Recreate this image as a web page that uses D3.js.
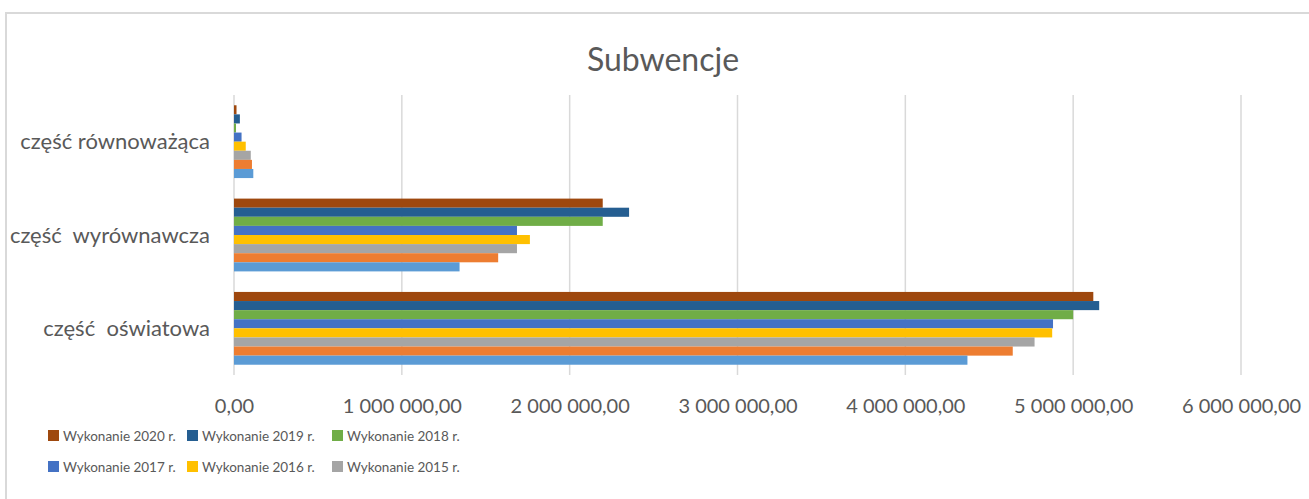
<!DOCTYPE html>
<html>
<head>
<meta charset="utf-8">
<script src="https://d3js.org/d3.v7.min.js"></script>
<style>
  body { margin: 0; background: #fff; }
  text { font-family: Lato, "Open Sans", sans-serif; fill: #595959; }
</style>
</head>
<body>
<svg id="vis"></svg>
<script>
// categories (top to bottom)
var categories = ["część równoważąca", "część  wyrównawcza", "część  oświatowa"];

// series names, top bar first
var seriesNames = ["Wykonanie 2020 r.", "Wykonanie 2019 r.", "Wykonanie 2018 r.",
                   "Wykonanie 2017 r.", "Wykonanie 2016 r.", "Wykonanie 2015 r.",
                   "Wykonanie 2014 r.", "Wykonanie 2013 r."];
var seriesColors = ["#9E480E", "#255E91", "#70AD47", "#4472C4", "#FFC000", "#A5A5A5", "#ED7D31", "#5B9BD5"];

// values per series, in category order
var v2020 = [15000, 2197000, 5120000];
var v2019 = [35000, 2354000, 5155000];
var v2018 = [12000, 2197000, 5000000];
var v2017 = [45000, 1686000, 4880000];
var v2016 = [70000, 1763000, 4875000];
var v2015 = [100000, 1686000, 4770000];
var v2014 = [107000, 1574000, 4640000];
var v2013 = [115000, 1344000, 4370000];
var seriesValues = [v2020, v2019, v2018, v2017, v2016, v2015, v2014, v2013];

// x ticks
var xTicks = [0, 1000000, 2000000, 3000000, 4000000, 5000000, 6000000];

// how many legend entries are visible
var legendShown = 6;

var W = 1309, H = 499;
var svg = d3.select("#vis").attr("width", W).attr("height", H);

// chart frame
svg.append("rect")
  .attr("x", 6).attr("y", 13)
  .attr("width", W + 20).attr("height", H + 20)
  .attr("fill", "#fff")
  .attr("stroke", "#d9d9d9")
  .attr("stroke-width", 2);

// title
svg.append("text")
  .attr("x", 663).attr("y", 71)
  .attr("text-anchor", "middle")
  .style("font-size", "32px")
  .text("Subwencje");

var x = d3.scaleLinear().domain([0, 6000000]).range([234, 1241]);
var y = d3.scaleBand().domain(categories).range([95, 375])
  .paddingInner(0.22).paddingOuter(0.11);
var yInner = d3.scaleBand().domain(d3.range(seriesNames.length)).range([0, y.bandwidth()]);

var pl = d3.formatLocale({ decimal: ",", thousands: "\u00a0", grouping: [3], currency: ["", " zł"] });
var fmt = pl.format(",.2f");

// gridlines
svg.append("g")
  .selectAll("line")
  .data(xTicks)
  .join("line")
  .attr("x1", d => x(d)).attr("x2", d => x(d))
  .attr("y1", 95).attr("y2", 375)
  .attr("stroke", "#d9d9d9")
  .attr("stroke-width", 1.5);

// bars
var groups = svg.append("g")
  .selectAll("g")
  .data(seriesValues)
  .join("g")
  .attr("fill", (d, i) => seriesColors[i]);

groups.selectAll("rect")
  .data((d, i) => d.map((val, c) => ({ val: val, cat: categories[c], s: i })))
  .join("rect")
  .attr("x", x(0))
  .attr("y", d => y(d.cat) + yInner(d.s))
  .attr("width", d => x(d.val) - x(0))
  .attr("height", yInner.bandwidth());

// x axis labels
var xAxis = svg.append("g")
  .attr("transform", "translate(0,375)")
  .call(d3.axisBottom(x).tickValues(xTicks).tickFormat(fmt).tickSize(0).tickPadding(24));
xAxis.select(".domain").remove();
xAxis.selectAll("text")
  .style("font-size", "20px")
  .attr("fill", "#595959")
  .style("font-family", "Lato, sans-serif");

// y axis labels
svg.append("g")
  .selectAll("text")
  .data(categories)
  .join("text")
  .attr("x", 210)
  .attr("y", d => y(d) + y.bandwidth() / 2)
  .attr("dy", "0.35em")
  .attr("text-anchor", "end")
  .attr("xml:space", "preserve")
  .style("white-space", "pre")
  .style("font-size", "22px")
  .text(d => d);

// legend
var legendX = [48, 187, 332];
var legendY = [436, 467];
var legend = svg.append("g")
  .selectAll("g")
  .data(seriesNames.slice(0, legendShown))
  .join("g")
  .attr("transform", (d, i) => "translate(" + legendX[i % 3] + "," + legendY[Math.floor(i / 3)] + ")");

legend.append("rect")
  .attr("x", 0).attr("y", -6)
  .attr("width", 11).attr("height", 11)
  .attr("fill", (d, i) => seriesColors[i]);

legend.append("text")
  .attr("x", 15).attr("y", 0)
  .attr("dy", "0.35em")
  .style("font-size", "13.5px")
  .text(d => d);
</script>
</body>
</html>
